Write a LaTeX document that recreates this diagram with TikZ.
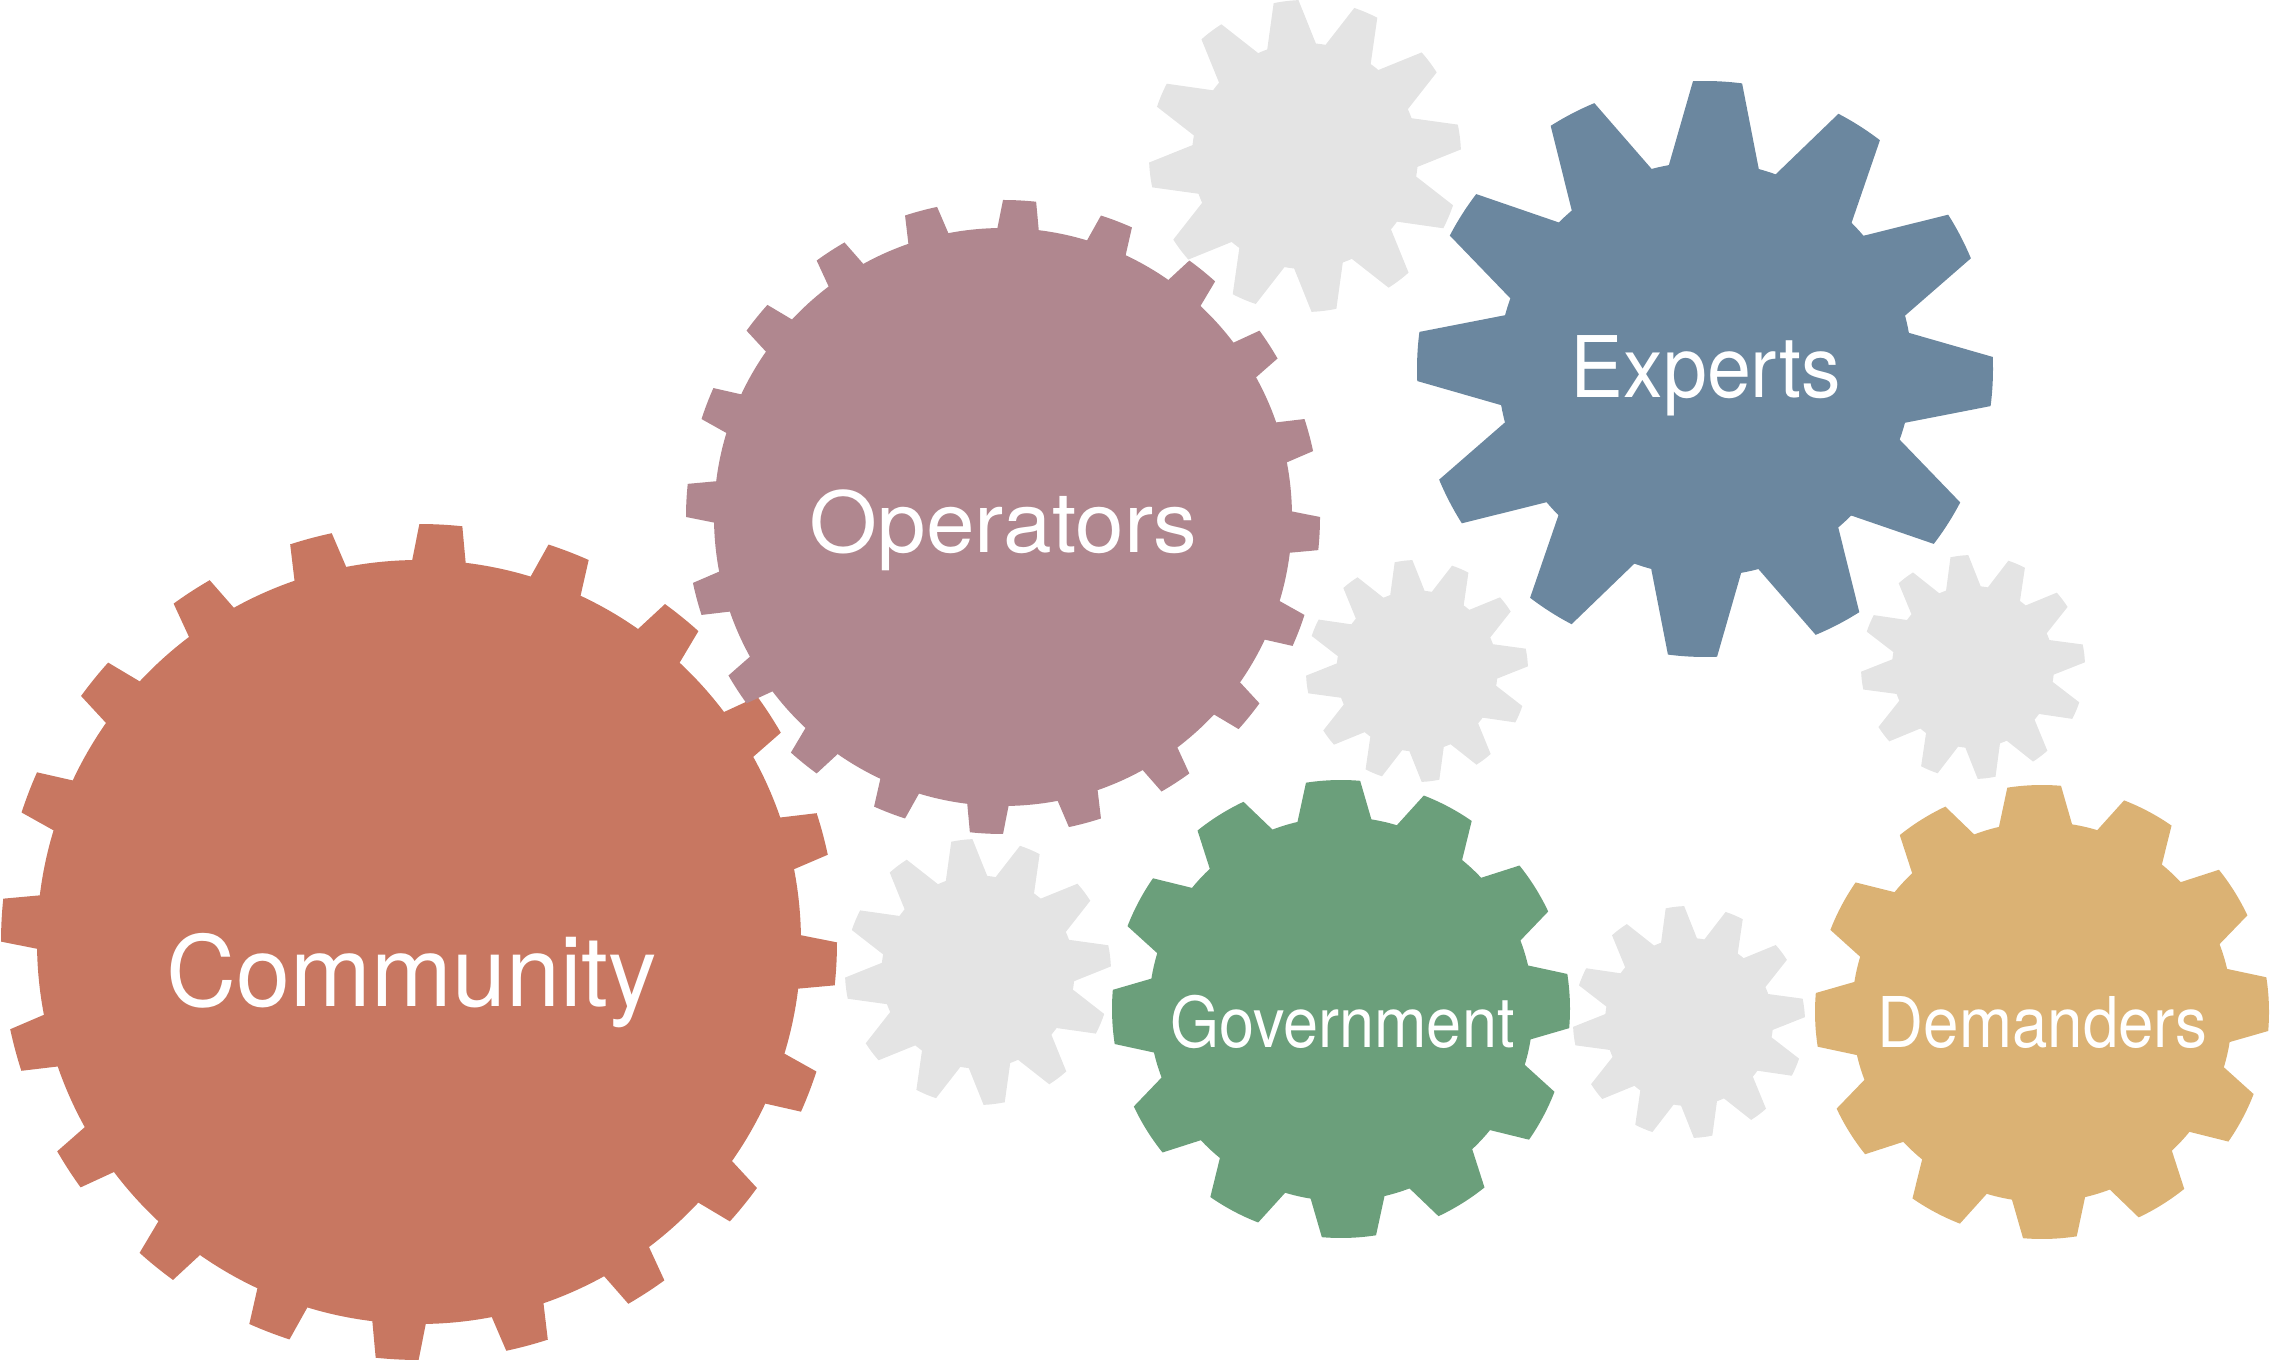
\documentclass[tikz,border=0pt]{standalone}
\usepackage{fontspec}
\setmainfont{TeX Gyre Heros}
\usepackage{graphicx}
\definecolor{commc}{RGB}{200,119,97}
\definecolor{operc}{RGB}{176,135,143}
\definecolor{expc}{RGB}{107,135,159}
\definecolor{govc}{RGB}{107,159,123}
\definecolor{demc}{RGB}{219,178,116}
\definecolor{grayc}{RGB}{228,228,228}
% cx cy N R rroot tiphalf basehalf offset colour
\newcommand{\drawgear}[9]{%
  \fill[#9] (#1,#2) circle[radius=#5];
  \foreach \k in {1,...,#3}{%
    \pgfmathsetmacro{\ga}{#8+(\k-1)*360/#3}%
    \fill[#9,shift={(#1,#2)}] ({\ga-#7}:{#5-1}) -- ({\ga-#6}:#4)
      arc[start angle={\ga-#6}, end angle={\ga+#6}, radius=#4]
      -- ({\ga+#7}:{#5-1}) -- cycle;
  }%
}
\begin{document}
\begin{tikzpicture}[x=1pt,y=1pt,
  lbl/.style={text=white, inner sep=0pt, anchor=base}]
\useasboundingbox (0,0) rectangle (2270,1361);
% grey gears
\drawgear{1305}{1205}{12}{156}{113}{4.6}{12.8}{7}{grayc}
\drawgear{1417}{690}{12}{111}{80.5}{4.6}{12.8}{7}{grayc}
\drawgear{1973}{694}{12}{112}{81}{4.6}{12.8}{7}{grayc}
\drawgear{978}{389}{12}{133}{96.5}{4.6}{12.8}{7}{grayc}
\drawgear{1689}{339}{12}{116}{84}{4.6}{12.8}{7}{grayc}
% coloured gears
\drawgear{419}{419}{20}{418}{382}{2.95}{4.05}{-3}{commc}
\drawgear{1003}{844}{20}{317}{289}{3.0}{4.15}{-3}{operc}
\drawgear{1705}{992}{12}{288}{207}{4.9}{12.7}{-2.5}{expc}
\drawgear{1341}{352}{12}{229}{192}{6.8}{11.25}{2}{govc}
\drawgear{2042}{349}{12}{227}{190}{6.8}{11.25}{2}{demc}
% labels
\node[lbl, font=\fontsize{98}{100}\selectfont] (community) at (412,354) {\scalebox{0.99}[1]{Community}};
\node[lbl, font=\fontsize{84}{90}\selectfont] (operators) at (1003.5,808) {\scalebox{1.04}[1]{Operators}};
\node[lbl, font=\fontsize{85}{90}\selectfont] (experts) at (1706,963) {\scalebox{0.93}[1]{Experts}};
\node[lbl, font=\fontsize{70}{80}\selectfont] (government) at (1342.5,313.5) {\scalebox{0.90}[1]{Government}};
\node[lbl, font=\fontsize{70}{80}\selectfont] (demanders) at (2042.5,313.5) {\scalebox{0.91}[1]{Demanders}};
\end{tikzpicture}
\end{document}
